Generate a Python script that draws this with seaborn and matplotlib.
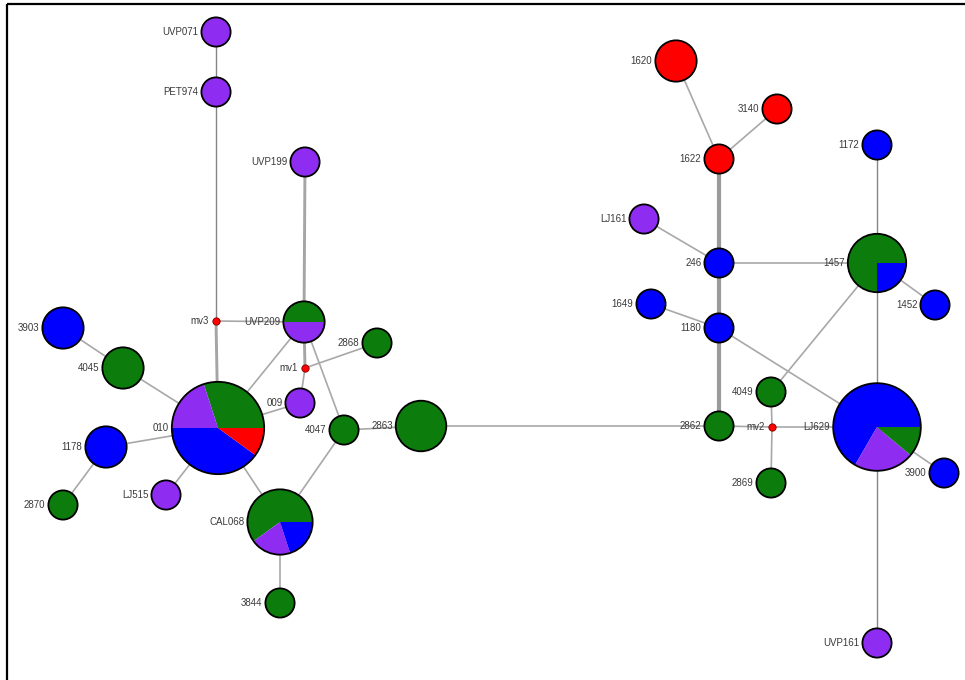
import matplotlib
matplotlib.use("Agg")
import matplotlib.pyplot as plt
from matplotlib.patches import Wedge
import numpy as np
import pandas as pd
import seaborn as sns

# Haplotype names and how many sequences of each lineage they hold
haplotypes = ["UVP071", "PET974", "UVP199", "UVP209", "3903", "2868", "4045", "009",
              "010", "4047", "2863", "1178", "2870", "LJ515", "CAL068", "3844",
              "1620", "3140", "1622", "1172", "LJ161", "246", "1457", "1649",
              "1452", "1180", "4049", "2862", "LJ629", "3900", "2869", "UVP161"]
count_green = [0, 0, 0, 1, 0, 1, 2, 0, 3, 1, 3, 0, 1, 0, 3, 1,
               0, 0, 0, 0, 0, 0, 3, 0, 0, 0, 1, 1, 1, 0, 1, 0]
count_purple = [1, 1, 1, 1, 0, 0, 0, 1, 2, 0, 0, 0, 0, 1, 1, 0,
                0, 0, 0, 0, 1, 0, 0, 0, 0, 0, 0, 0, 2, 0, 0, 1]
count_blue = [0, 0, 0, 0, 2, 0, 0, 0, 4, 0, 0, 2, 0, 0, 1, 0,
              0, 0, 0, 1, 0, 1, 1, 1, 1, 1, 0, 0, 6, 1, 0, 0]
count_red = [0, 0, 0, 0, 0, 0, 0, 0, 1, 0, 0, 0, 0, 0, 0, 0,
             2, 1, 1, 0, 0, 0, 0, 0, 0, 0, 0, 0, 0, 0, 0, 0]

# Median vectors (inferred, unsampled haplotypes)
median_vectors = ["mv1", "mv2", "mv3"]

# Network links
links = [("UVP071", "PET974"), ("PET974", "mv3"), ("mv3", "010"), ("mv3", "UVP209"),
         ("UVP199", "UVP209"), ("UVP209", "010"), ("UVP209", "mv1"), ("UVP209", "4047"),
         ("mv1", "2868"), ("mv1", "009"), ("009", "010"), ("3903", "4045"),
         ("4045", "010"), ("1178", "010"), ("1178", "2870"), ("LJ515", "010"),
         ("010", "CAL068"), ("CAL068", "4047"), ("CAL068", "3844"), ("4047", "2863"),
         ("2863", "2862"), ("2862", "1180"), ("1180", "246"), ("246", "1622"),
         ("1622", "1620"), ("1622", "3140"), ("246", "LJ161"), ("246", "1457"),
         ("1457", "1172"), ("1457", "1452"), ("1457", "LJ629"), ("1457", "4049"),
         ("1180", "1649"), ("1180", "LJ629"), ("2862", "mv2"), ("mv2", "4049"),
         ("mv2", "2869"), ("mv2", "LJ629"), ("LJ629", "3900"), ("LJ629", "UVP161")]

# ---- layout (drawing coordinates, y grows downward) ----
pos = {
    "UVP071": (216, 32), "PET974": (216, 92), "UVP199": (305, 162), "UVP209": (304, 322),
    "3903": (63, 328), "2868": (377, 343), "4045": (123, 368), "009": (300, 403),
    "010": (218, 428), "4047": (344, 430), "2863": (421, 426), "1178": (106, 447),
    "2870": (63, 505), "LJ515": (166, 495), "CAL068": (280, 522), "3844": (280, 603),
    "1620": (676, 61), "3140": (777, 109), "1622": (719, 159), "1172": (877, 145),
    "LJ161": (644, 219), "246": (719, 263), "1457": (877, 263), "1649": (651, 304),
    "1452": (935, 305), "1180": (719, 328), "4049": (771, 392), "2862": (719, 426),
    "LJ629": (877, 427), "3900": (944, 473), "2869": (771, 483), "UVP161": (877, 643),
    "mv1": (305, 368), "mv2": (772, 427), "mv3": (216, 321),
}
thick_links = {("2862", "1180"), ("1180", "246"), ("246", "1622")}
medium_links = {("UVP199", "UVP209"), ("UVP209", "mv1"), ("mv3", "010")}
dark_links = {("UVP071", "PET974"), ("PET974", "mv3"), ("1457", "1172"),
              ("1457", "LJ629"), ("LJ629", "UVP161")}

colors = {"green": "#0c7c0c", "purple": "#8e2cf2", "blue": "#0000ff", "red": "#ff0000"}
default_order = ["green", "purple", "blue", "red"]
wedge_order = {"LJ629": ["blue", "purple", "green", "red"]}
radius_unit = 14.6

sns.set_theme(style="white")
plt.rcParams["font.family"] = ["Liberation Sans", "DejaVu Sans"]

fig = plt.figure(figsize=(9.65, 6.8), dpi=100)
ax = fig.add_axes([0, 0, 1, 1])
ax.set_xlim(0, 965)
ax.set_ylim(680, 0)
ax.axis("off")

# frame lines on top and left
ax.plot([7, 965], [4.3, 4.3], color="black", lw=1.6, solid_capstyle="butt", zorder=5)
ax.plot([7, 7], [4.3, 680], color="black", lw=1.6, solid_capstyle="butt", zorder=5)

# links, grouped by line style
rows = []
for i, (a, b) in enumerate(links):
    if (a, b) in thick_links:
        style = "thick"
    elif (a, b) in medium_links:
        style = "medium"
    elif (a, b) in dark_links:
        style = "dark"
    else:
        style = "thin"
    for n in (a, b):
        rows.append({"link": i, "style": style, "x": pos[n][0], "y": pos[n][1]})
edges = pd.DataFrame(rows)
styles = {"thick": ("#9a9a9a", 3.0), "medium": ("#a5a5a5", 2.1),
          "dark": ("#858585", 1.0), "thin": ("#a8a8a8", 1.2)}
for style, (col, lw) in styles.items():
    sub = edges[edges["style"] == style]
    sns.lineplot(data=sub, x="x", y="y", units="link", estimator=None, sort=False,
                 color=col, linewidth=lw, ax=ax, zorder=1)
ax.set_xlim(0, 965)
ax.set_ylim(680, 0)
ax.axis("off")

# haplotype pies
counts = pd.DataFrame({"name": haplotypes, "green": count_green, "purple": count_purple,
                       "blue": count_blue, "red": count_red})
for _, row in counts.iterrows():
    name = row["name"]
    x, y = pos[name]
    order = wedge_order.get(name, default_order)
    total = sum(row[c] for c in order)
    r = radius_unit * np.sqrt(total)
    start = 0.0
    for c in order:
        if row[c] == 0:
            continue
        span = 360.0 * row[c] / total
        # y axis is inverted, so counter-clockwise on screen means negative angles
        ax.add_patch(Wedge((x, y), r, -(start + span), -start, facecolor=colors[c],
                           edgecolor="none", zorder=2))
        start += span
    ax.add_patch(plt.Circle((x, y), r, facecolor="none", edgecolor="black",
                            lw=1.3, zorder=3))
    ax.text(x - r - 3, y, name, ha="right", va="center", fontsize=7,
            color="#3a3a3a", zorder=4)

# median vectors
mv = pd.DataFrame({"name": median_vectors,
                   "x": [pos[m][0] for m in median_vectors],
                   "y": [pos[m][1] for m in median_vectors]})
sns.scatterplot(data=mv, x="x", y="y", color="#ff0000", edgecolor="#800000",
                s=28, linewidth=0.6, ax=ax, zorder=4, legend=False)
for _, row in mv.iterrows():
    ax.text(row["x"] - 7, row["y"], row["name"], ha="right", va="center",
            fontsize=7, color="#3a3a3a", zorder=4)
ax.set_xlim(0, 965)
ax.set_ylim(680, 0)
ax.axis("off")

fig.savefig("out.png", dpi=100, facecolor="white")
